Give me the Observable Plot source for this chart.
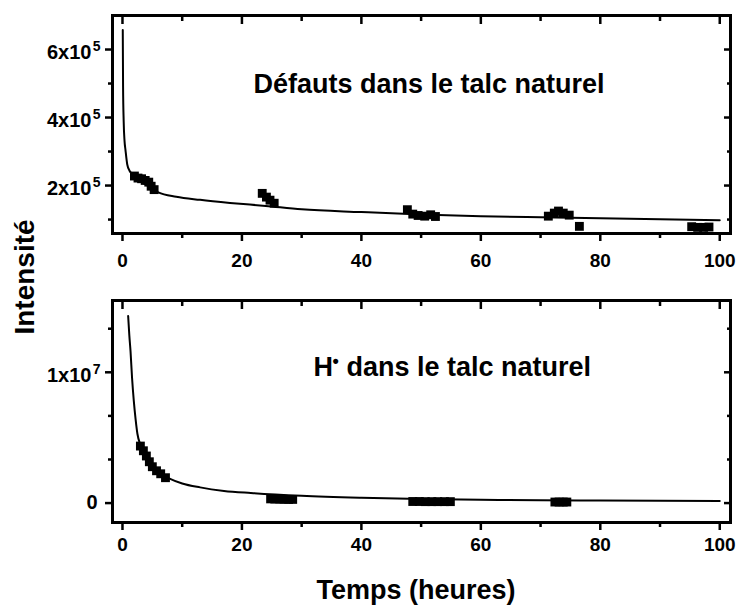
<!DOCTYPE html>
<html>
<head>
<meta charset="utf-8">
<script src="https://cdn.jsdelivr.net/npm/d3@7"></script>
<script src="https://cdn.jsdelivr.net/npm/@observablehq/plot@0.6"></script>
<style>
  body { margin: 0; background: #fff; }
  #chart { position: relative; width: 739px; height: 606px; font-family: "Liberation Sans", Arial, sans-serif; font-weight: bold; color: #000; }
  #chart svg { position: absolute; left: 0; }
  #ytitle { position: absolute; left: -125px; top: 263px; width: 300px; height: 28px; line-height: 28px; font-size: 28px; text-align: center; transform: rotate(-90deg); }
  #xtitle { position: absolute; left: 216px; top: 577px; width: 400px; line-height: 27px; font-size: 27px; text-align: center; }
</style>
</head>
<body>
<div id="chart">
  <div id="ytitle">Intensité</div>
  <div id="xtitle">Temps (heures)</div>
</div>
<script>
// ---- Data: top panel (défauts) ----
const defTime = [2.0, 2.6, 3.2, 3.8, 4.4, 4.8, 5.3, 23.4, 24.1, 24.7, 25.4, 47.7, 48.6, 49.5, 50.6, 51.6, 52.4, 71.3, 72.3, 73.0, 73.8, 74.8, 76.5, 95.3, 96.3, 97.3, 98.2];
const defInt  = [2.28e5, 2.22e5, 2.2e5, 2.15e5, 2.1e5, 1.98e5, 1.88e5, 1.77e5, 1.66e5, 1.57e5, 1.48e5, 1.29e5, 1.16e5, 1.12e5, 1.1e5, 1.14e5, 1.09e5, 1.1e5, 1.19e5, 1.25e5, 1.19e5, 1.13e5, 0.8e5, 0.79e5, 0.77e5, 0.77e5, 0.78e5];
const defFitTime = [0.05, 0.1, 0.2, 0.35, 0.5, 0.8, 1.2, 1.5, 2, 3, 4, 6, 9, 13, 18, 24, 30, 40, 50, 60, 70, 80, 90, 100];
const defFitInt  = [6.57e5, 4.9e5, 3.9e5, 3.3e5, 3.05e5, 2.62e5, 2.43e5, 2.36e5, 2.27e5, 2.12e5, 2.02e5, 1.8e5, 1.67e5, 1.58e5, 1.49e5, 1.4e5, 1.3e5, 1.22e5, 1.15e5, 1.1e5, 1.07e5, 1.04e5, 1.01e5, 0.98e5];

// ---- Data: bottom panel (H•) ----
const hTime = [3.0, 3.5, 4.0, 4.5, 5.0, 5.7, 6.4, 7.2, 24.8, 25.5, 26.3, 27.0, 27.8, 28.5, 48.6, 49.7, 50.7, 51.8, 52.8, 53.9, 54.9, 72.4, 73.1, 73.8, 74.4];
const hInt  = [4.36e6, 4.0e6, 3.6e6, 3.16e6, 2.78e6, 2.47e6, 2.24e6, 1.94e6, 3.2e5, 3.1e5, 3.0e5, 2.9e5, 2.8e5, 2.8e5, 1.2e5, 1.2e5, 1.1e5, 1.1e5, 1.1e5, 1.1e5, 1.1e5, 0.8e5, 0.8e5, 0.8e5, 0.8e5];
const hFitTime = [0.95, 1.15, 1.35, 1.6, 1.9, 2.2, 2.5, 3.0, 3.5, 4.0, 5.0, 6.0, 7.5, 10, 13, 17, 21.5, 30, 40, 50, 60, 70, 80, 90, 100];
const hFitInt  = [1.43e7, 1.28e7, 1.16e7, 9.6e6, 7.8e6, 6.4e6, 5.3e6, 4.45e6, 3.95e6, 3.55e6, 2.8e6, 2.3e6, 1.95e6, 1.5e6, 1.2e6, 9.3e5, 7.7e5, 5.6e5, 4.1e5, 3.1e5, 2.5e5, 2.1e5, 1.9e5, 1.7e5, 1.6e5];

// ---- Ticks & labels ----
const xMajor = [0, 20, 40, 60, 80, 100];
const xMinor = [10, 30, 50, 70, 90];
const topYMajor = [2e5, 4e5, 6e5];
const topYMinor = [1e5, 3e5, 5e5];
const topYBase = ["2x10", "4x10", "6x10"];
const topYExp = ["5", "5", "5"];
const botYMajor = [0, 1e7];
const botYMinor = [3.333e6, 6.667e6, 1.3333e7];
const botYBase = ["0", "1x10"];
const botYExp = ["", "7"];

const topTitle = "Défauts dans le talc naturel";
const botTitleH = "H";
const botTitleSup = "•";
const botTitleRest = "dans le talc naturel";

const FONT = '"Liberation Sans", Arial, sans-serif';
const zip = (a, b) => a.map((t, i) => ({t, v: b[i]}));
const labels = (vals, base, exp) => vals.map((v, i) => ({v, base: base[i], exp: exp[i]}));

function panel({yDomain, yMajor, yMinor, yLab, pts, fit, height, marginTop, marginBottom, xLabelPad, extra}) {
  const tk = {strokeWidth: 2.5, fill: "none", label: null};
  const txt = {fontWeight: "bold", fontFamily: FONT};
  return Plot.plot({
    width: 739, height, marginLeft: 112, marginRight: 9, marginTop, marginBottom,
    x: {domain: [-1.67, 101.8]},
    y: {domain: yDomain},
    style: {background: "white", color: "black", fontFamily: FONT, overflow: "visible"},
    marks: [
      Plot.axisX(xMajor, {anchor: "bottom", tickSize: 8, ...tk}),
      Plot.axisX(xMinor, {anchor: "bottom", tickSize: 5, ...tk}),
      Plot.axisX(xMajor, {anchor: "top", tickSize: 8, dy: 8, ...tk}),
      Plot.axisX(xMinor, {anchor: "top", tickSize: 5, dy: 5, ...tk}),
      Plot.axisY(yMajor, {anchor: "left", tickSize: 7, ...tk}),
      Plot.axisY(yMinor, {anchor: "left", tickSize: 4, ...tk}),
      Plot.axisY(yMajor, {anchor: "right", tickSize: 7, dx: -7, ...tk}),
      Plot.axisY(yMinor, {anchor: "right", tickSize: 4, dx: -4, ...tk}),
      Plot.axisX(xMajor, {anchor: "bottom", tickSize: 0, tickPadding: xLabelPad, fontSize: 19, label: null, tickFormat: d => String(d), ...txt}),
      Plot.text(yLab.filter(d => d.exp), {y: "v", text: "base", frameAnchor: "left", dx: -21, dy: 3, textAnchor: "end", fontSize: 20, ...txt}),
      Plot.text(yLab.filter(d => d.exp), {y: "v", text: "exp", frameAnchor: "left", dx: -12, dy: -3, textAnchor: "end", fontSize: 14, ...txt}),
      Plot.text(yLab.filter(d => !d.exp), {y: "v", text: "base", frameAnchor: "left", dx: -15, textAnchor: "end", fontSize: 20, ...txt}),
      Plot.frame({strokeWidth: 3}),
      Plot.line(fit, {x: "t", y: "v", strokeWidth: 2, curve: "monotone-x"}),
      Plot.dot(pts, {x: "t", y: "v", symbol: "square", r: 5, fill: "black", stroke: null}),
      ...extra.map(e => Plot.text([e.text], {text: d => d, frameAnchor: "top-left", textAnchor: "start", lineAnchor: "bottom", dx: e.dx, dy: e.dy, fontSize: e.size, ...txt}))
    ]
  });
}

const topChart = panel({
  yDomain: [5.9e4, 7.0e5], yMajor: topYMajor, yMinor: topYMinor,
  yLab: labels(topYMajor, topYBase, topYExp),
  pts: zip(defTime, defInt), fit: zip(defFitTime, defFitInt),
  height: 262, marginTop: 15, marginBottom: 29, xLabelPad: 20,
  extra: [{text: topTitle, dx: 141, dy: 77, size: 27}]
});
topChart.style.top = "0px";

const botChart = panel({
  yDomain: [-1.485e6, 1.549e7], yMajor: botYMajor, yMinor: botYMinor,
  yLab: labels(botYMajor, botYBase, botYExp),
  pts: zip(hTime, hInt), fit: zip(hFitTime, hFitInt),
  height: 270, marginTop: 20, marginBottom: 28, xLabelPad: 15,
  extra: [
    {text: botTitleH, dx: 201, dy: 75, size: 27},
    {text: botTitleSup, dx: 220, dy: 66, size: 18},
    {text: botTitleRest, dx: 234, dy: 75, size: 27}
  ]
});
botChart.style.top = "280px";

const chart = document.getElementById("chart");
chart.prepend(botChart);
chart.prepend(topChart);
</script>
</body>
</html>
